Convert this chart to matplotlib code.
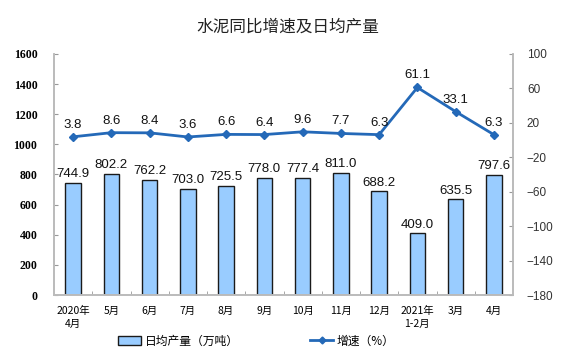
import matplotlib
matplotlib.use("Agg")
import matplotlib.pyplot as plt
from matplotlib.lines import Line2D
from matplotlib.patches import Patch

plt.rcParams['font.family'] = ['Noto Sans CJK SC', 'DejaVu Sans']

categories = ["2020年\n4月", "5月", "6月", "7月", "8月", "9月", "10月", "11月", "12月", "2021年\n1-2月", "3月", "4月"]
output = [744.9, 802.2, 762.2, 703.0, 725.5, 778.0, 777.4, 811.0, 688.2, 409.0, 635.5, 797.6]
growth = [3.8, 8.6, 8.4, 3.6, 6.6, 6.4, 9.6, 7.7, 6.3, 61.1, 33.1, 6.3]
left_ticks = [0, 200, 400, 600, 800, 1000, 1200, 1400, 1600]
right_ticks = [-180, -140, -100, -60, -20, 20, 60, 100]

fig = plt.figure(figsize=(5.76, 3.57), dpi=100)
ax = fig.add_axes([54/576, 1-295/357, (513-54)/576, (295-54)/357])
ax2 = ax.twinx()

x = list(range(len(categories)))
ax.bar(x, output, width=0.4, color='#99ccff', edgecolor='#1a1a1a', linewidth=1.0, zorder=2)
for xi, v in zip(x, output):
    ax.text(xi, v + 18, f"{v:.1f}", ha='center', va='bottom', fontsize=9.5,
            family='Liberation Sans', color='#111111')

ax.set_xlim(-0.5, len(categories) - 0.5)
ax.set_ylim(0, 1600)
ax.set_yticks(left_ticks)
ax.set_yticklabels([str(t) for t in left_ticks], family='Liberation Serif', fontweight='bold', fontsize=8.5)
ax.tick_params(axis='y', direction='in', length=3, color='#999999', pad=12)
ax.set_xticks(x)
ax.set_xticklabels(categories, fontsize=7.5, linespacing=1.3)
ax.set_xticks([i + 0.5 for i in x[:-1]], minor=True)
ax.tick_params(axis='x', which='major', length=0, pad=8)
ax.tick_params(axis='x', which='minor', direction='in', length=3, color='#999999')

ax2.plot(x, growth, color='#2469b8', linewidth=2, marker='D', markersize=4, zorder=3)
for xi, v in zip(x, growth):
    ax2.text(xi, v + 7, f"{v:.1f}", ha='center', va='bottom', fontsize=9.5,
             family='Liberation Sans', color='#111111')
ax2.set_ylim(-180, 100)
ax2.set_yticks(right_ticks)
ax2.set_yticklabels([str(t).replace('-', '\u2212') for t in right_ticks], family='Liberation Sans', fontsize=8.5, color='#333333')
ax2.tick_params(axis='y', direction='in', length=3, color='#999999', pad=10)

for a in (ax, ax2):
    a.spines['top'].set_visible(False)
    for s in ('left', 'right', 'bottom'):
        a.spines[s].set_color('#bbbbbb')
        a.spines[s].set_linewidth(1.2)

fig.text(0.5, 1-27/357, "水泥同比增速及日均产量", ha='center', va='center', fontsize=12, color='#222222')

handles = [Patch(facecolor='#99ccff', edgecolor='#1a1a1a', linewidth=1.0),
           Line2D([0], [0], color='#2469b8', linewidth=2, marker='D', markersize=3.5)]
fig.legend(handles, ["日均产量（万吨）", "增速（%）"], loc='center', bbox_to_anchor=(0.445, 1-341/357),
           ncol=2, frameon=False, fontsize=8.5, columnspacing=6, handlelength=2.0, handletextpad=0.3)

fig.savefig("out.png", dpi=100)
